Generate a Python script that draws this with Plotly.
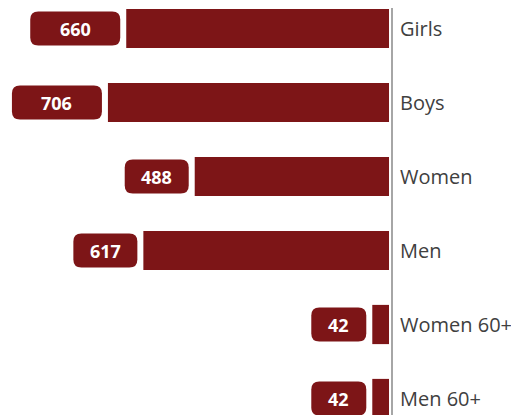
import plotly.graph_objects as go

categories = ["Girls", "Boys", "Women", "Men", "Women 60+", "Men 60+"]
values = [660, 706, 488, 617, 42, 42]

# styling for label boxes (pixel sizes)
box_widths = [90, 90, 64, 64, 55, 55]
BOX_GAP = 6
BOX_H = 34
RAD = 8
BAR_COLOR = "#7d1517"

idx = list(range(len(categories)))

fig = go.Figure()
fig.add_trace(go.Bar(
    x=values, y=idx, orientation="h", width=0.53,
    marker=dict(color=BAR_COLOR, line=dict(width=0)),
    hoverinfo="skip",
))

shapes = []
annotations = []
for i, (v, w) in enumerate(zip(values, box_widths)):
    x1 = -BOX_GAP
    x0 = x1 - w
    y0 = -BOX_H / 2
    y1 = BOX_H / 2
    r = RAD
    path = (
        f"M {x0 + r},{y0} L {x1 - r},{y0} Q {x1},{y0} {x1},{y0 + r} "
        f"L {x1},{y1 - r} Q {x1},{y1} {x1 - r},{y1} "
        f"L {x0 + r},{y1} Q {x0},{y1} {x0},{y1 - r} "
        f"L {x0},{y0 + r} Q {x0},{y0} {x0 + r},{y0} Z"
    )
    shapes.append(dict(
        type="path", path=path, xref="x", yref="y",
        xsizemode="pixel", ysizemode="pixel",
        xanchor=v, yanchor=i,
        fillcolor=BAR_COLOR, line=dict(width=0), layer="above",
    ))
    annotations.append(dict(
        x=v, y=i, xref="x", yref="y", text=f"<b>{v}</b>",
        showarrow=False, xshift=-(BOX_GAP + w / 2), yshift=0,
        font=dict(family="Open Sans", size=18, color="white"),
    ))

fig.update_layout(
    width=511, height=407,
    margin=dict(l=0, r=128, t=0, b=0),
    paper_bgcolor="white", plot_bgcolor="white",
    showlegend=False,
    shapes=shapes, annotations=annotations,
    xaxis=dict(visible=False, range=[957, -5], fixedrange=True),
    yaxis=dict(
        range=[5.223, -0.277], side="right",
        tickvals=idx, ticktext=categories,
        showline=True, linecolor="#a6a6a6", linewidth=2,
        showgrid=False, zeroline=False, ticks="",
        ticklabelstandoff=3,
        tickfont=dict(family="Open Sans", size=20, color="#404040"),
    ),
)

fig.write_html("out.html")
